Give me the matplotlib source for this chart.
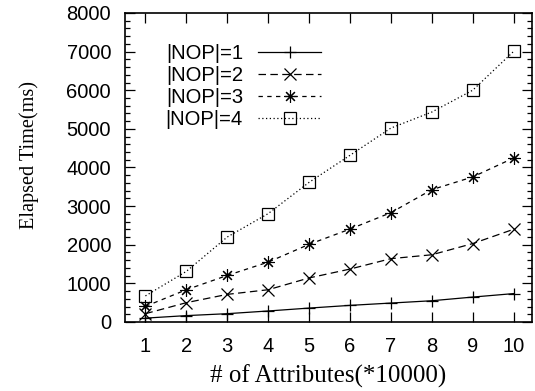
import matplotlib
matplotlib.use("Agg")
import matplotlib.pyplot as plt
from matplotlib.ticker import MultipleLocator

# data
attrs = [1, 2, 3, 4, 5, 6, 7, 8, 9, 10]
nop1 = [100, 165, 215, 285, 360, 430, 490, 550, 645, 735]
nop2 = [215, 500, 715, 835, 1140, 1370, 1640, 1740, 2030, 2400]
nop3 = [405, 835, 1205, 1550, 2010, 2405, 2830, 3425, 3755, 4245]
nop4 = [675, 1310, 2200, 2805, 3615, 4315, 5020, 5435, 6000, 7005]
labels = ["|NOP|=1", "|NOP|=2", "|NOP|=3", "|NOP|=4"]

fig = plt.figure(figsize=(5.35, 3.91), dpi=100)
ax = fig.add_axes([0.2336, 0.1765, 0.7608, 0.7903])

sans = "Liberation Sans"
serif = "Liberation Serif"

ax.plot(attrs, nop1, color="black", lw=0.9, ls="-", marker="+", ms=9, mew=0.9)
ax.plot(attrs, nop2, color="black", lw=0.9, ls=(0, (6, 3.5)), marker="x", ms=8, mew=0.9)
ax.plot(attrs, nop3, color="black", lw=0.9, ls=(0, (3.5, 3.5)), marker=(8, 2, 0), ms=9, mew=0.8)
ax.plot(attrs, nop4, color="black", lw=0.9, ls=(0, (1, 2)), marker="s", ms=8, mew=0.9,
        mfc="none")

ax.set_xlim(0.5, 10.45)
ax.set_ylim(0, 8000)
ax.set_xticks(attrs)
ax.yaxis.set_major_locator(MultipleLocator(1000))
ax.yaxis.set_minor_locator(MultipleLocator(200))
ax.tick_params(axis="both", which="both", direction="in", top=True, right=True)
ax.tick_params(axis="both", which="major", length=7, width=0.9, labelsize=14.5)
ax.tick_params(axis="x", which="major", pad=11)
ax.tick_params(axis="y", which="major", pad=10)
ax.tick_params(axis="y", which="minor", length=3.5, width=0.9)
for lab in ax.get_xticklabels() + ax.get_yticklabels():
    lab.set_fontfamily(sans)
for sp in ax.spines.values():
    sp.set_linewidth(1.2)

ax.set_xlabel("# of Attributes(*10000)", fontfamily=serif, fontsize=18, labelpad=6)
ax.set_ylabel("Elapsed Time(ms)", fontfamily=serif, fontsize=14.6)
ax.yaxis.set_label_coords(-0.212, 0.54)

ax.legend(labels, loc="upper left", bbox_to_anchor=(0.10, 0.898), frameon=False,
          markerfirst=False, handlelength=3.1, handletextpad=0.75, labelspacing=0.14,
          prop={"family": sans, "size": 14.6}, borderaxespad=0, borderpad=0)

fig.savefig("out.png", dpi=100)
